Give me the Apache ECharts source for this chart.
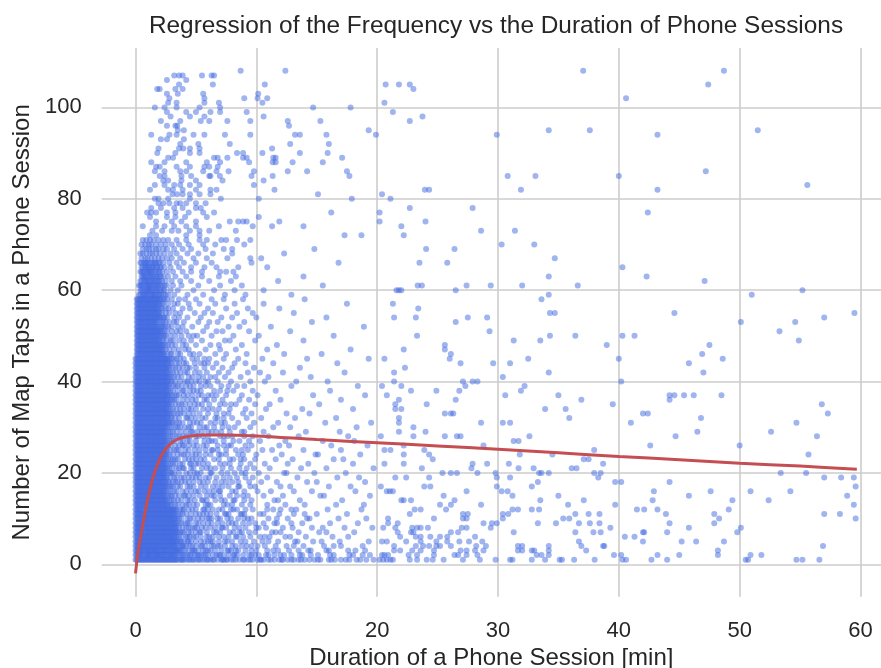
<!DOCTYPE html>
<html><head><meta charset="utf-8">
<script src="https://cdn.jsdelivr.net/npm/echarts@6/dist/echarts.min.js"></script>
<style>html,body{margin:0;padding:0;background:#fff}#c{width:881px;height:668px}</style>
</head><body><div id="c"></div>
<script>
// Sessions with many taps (x < 20 min, taps >= 72): [duration, taps]
const tapsHigh = [
[8.7,108],[12.4,108],[3.2,107],[3.6,107],[3.9,107],[5.5,107],[6.3,107],[6.5,107],[2.6,106],[4.2,106],[3.6,105],[6.4,105],[10.7,105],
[1.8,104],[2.0,104],[3.3,104],[3.9,104],[2.6,103],[3.5,103],[5.6,103],[10.15,103],[2.8,102],[5.7,102],[9.0,102],[10.1,102],[10.9,102],
[2.7,101],[3.4,101],[5.7,101],[6.9,101],[10.5,101],[1.6,100],[2.4,100],[3.4,100],[5.3,100],[7.0,100],[14.7,100],[17.8,100],
[2.6,99],[4.2,99],[5.0,99],[6.2,99],[7.0,99],[9.2,99],[2.9,98],[4.5,98],[5.7,98],[10.6,98],
[2.1,97],[3.7,97],[5.4,97],[6.1,97],[7.6,97],[9.5,97],[12.6,97],[15.3,97],[2.6,96],[3.3,96],[3.45,96],[12.7,96],[3.5,95],[4.0,95],[19.3,95],
[1.3,94],[2.8,94],[3.4,94],[4.8,94],[5.7,94],[7.4,94],[9.5,94],[13.2,94],[13.6,94],[15.8,94],[19.9,94],[2.1,93],[2.6,93],[4.0,93],
[3.7,92],[5.2,92],[7.8,92],[12.8,92],[16.0,92],[1.9,91],[3.6,91],[3.95,91],[4.5,91],[5.3,91],[11.3,91],
[1.8,90],[3.3,90],[4.5,90],[5.3,90],[8.4,90],[8.9,90],[10.5,90],[13.6,90],[15.9,90],
[2.7,89],[3.1,89],[6.5,89],[6.8,89],[7.6,89],[8.9,89],[9.2,89],[11.4,89],[11.6,89],[17.1,89],
[1.3,88],[2.4,88],[4.2,88],[5.9,88],[7.0,88],[9.4,88],[11.35,88],[11.6,88],[13.0,88],[15.5,88],
[1.7,87],[2.0,87],[3.4,87],[4.5,87],[5.7,87],[6.1,87],[6.8,87],
[1.6,86],[2.4,86],[3.7,86],[4.2,86],[5.6,86],[6.7,86],[7.7,86],[9.8,86],[12.6,86],[14.2,86],[17.5,86],
[2.0,85],[2.4,85],[3.8,85],[4.6,85],[6.1,85],[6.2,85],[6.98,85],[9.6,85],[11.35,85],[17.7,85],
[2.3,84],[2.7,84],[3.8,84],[5.0,84],[7.2,84],[10.6,84],[1.6,83],[2.4,83],[3.2,83],[3.7,83],[4.5,83],[5.3,83],[9.8,83],
[1.2,82],[2.7,82],[3.1,82],[3.9,82],[5.0,82],[6.2,82],[6.7,82],[11.5,82],[3.06,81],[3.45,81],[3.9,81],[4.5,81],[5.3,81],[6.2,81],[15.1,81],
[1.6,80],[1.9,80],[2.7,80],[4.5,80],[7.06,80],[10.2,80],[17.9,80],[3.4,79],[1.9,79],[2.3,79],[2.8,79],[3.7,79],[4.2,79],[5.0,79],[5.8,79],
[1.3,78],[2.1,78],[3.2,78],[3.9,78],[5.0,78],[5.4,78],[0.96,77],[1.3,77],[1.7,77],[2.6,77],[3.3,77],[4.4,77],[5.6,77],[6.5,77],[16.2,77],
[1.2,76],[2.6,76],[3.3,76],[4.1,76],[5.9,76],[10.2,76],[1.7,75],[3.0,75],[3.8,75],[5.0,75],[7.8,75],[8.5,75],[8.9,75],[9.2,75],[11.9,75],
[0.6,74],[1.7,74],[2.4,74],[3.2,74],[4.2,74],[5.0,74],[6.9,74],[9.7,74],[11.3,74],[13.9,74],
[1.4,73],[2.2,73],[3.0,73],[3.55,73],[4.5,73],[5.3,73],[6.1,73],[8.3,73],[1.2,72],[1.7,72],[4.2,72],[5.3,72],[17.3,72],[18.7,72]
];
// Long sessions (x >= 20 min): [duration, taps]
const tapsFar = [
[20.7,105],[21.8,105],[22.7,105],[23.0,104],[20.6,101],[21.3,99],[22.7,97],[23.75,98],[29.9,94],[34.2,95],[37.6,95],[37.05,108],[40.6,102],[43.2,94],[47.4,105],[48.7,108],[51.5,95],
[30.8,85],[33.1,85],[31.9,82],[40.0,85],[43.2,82],[47.2,86],[55.6,83],[20.4,81],[21.1,80],[23.95,82],[24.3,82],[20.2,77],[20.2,75],[22.7,78],[27.9,78],[24.0,75],[22.0,74],[22.2,72],[28.6,73],[42.4,77],
[30.3,70],[33.0,70],[31.4,73],[24.05,69],[26.4,69],[23.5,66],[25.8,66],[34.7,67],[40.3,65],[34.2,63],[42.3,63],[47.1,62],[23.35,61],[23.7,61],[27.4,61],[29.4,61],[32.0,61],[36.6,61],
[21.6,60],[21.8,60],[22.0,60],[26.5,60],[55.2,60],[21.3,57],[23.4,56],[33.6,58],[34.2,59],[51.0,59],[21.4,54],[23.2,54],[27.5,54],[29.1,54],[34.3,55],[34.7,55],[44.6,55],[57.0,54],[59.5,55],
[50.1,53],[54.6,53],[26.5,53],[29.3,51],[53.3,51],[23.3,50],[34.3,50],[36.4,50],[40.3,50],[41.3,50],
[31.3,49],[33.5,49],[54.9,49],[47.5,48],[25.6,48],[25.6,47],[39.0,48],[22.2,47],[26.1,46],[46.9,46],[20.6,45],[26.0,45],[32.5,45],[40.0,45],[48.6,45],[26.9,44],[29.6,44],[31.0,44],[45.8,44],
[22.3,43],[21.4,42],[34.2,42],[47.0,42],[30.4,41],[21.4,40],[27.1,40],[27.9,40],[28.3,40],[40.2,40],[20.4,39],[22.0,39],[27.3,39],[32.2,39],[22.8,38],[24.9,38],[26.8,38],[31.9,38],
[20.8,37],[30.6,37],[35.0,37],[44.2,37],[44.6,37],[45.4,37],[46.2,37],[48.5,37],[21.8,36],[26.5,36],[36.9,36],[44.2,36],[21.5,35],[24.1,35],[39.5,35],[56.8,35],
[21.5,34],[22.0,34],[33.9,34],[35.6,34],[25.6,33],[26.1,33],[26.3,33],[42.0,33],[42.4,33],[57.3,33],[21.8,32],[35.9,32],[46.8,32],[21.8,31],[28.6,31],[30.4,31],[31.0,31],[41.0,31],[54.7,31],
[23.0,30],[21.8,29],[24.0,29],[46.5,29],[52.6,29],[20.3,28],[23.0,28],[25.6,28],[26.6,28],[26.9,28],[32.6,28],[44.7,28],[56.4,28],[31.3,27],[31.7,27],[22.2,26],[28.8,26],[42.6,26],[50.0,26],
[20.6,25],[21.1,25],[23.9,25],[37.96,25],[22.2,24],[24.3,24],[31.8,24],[34.5,24],[55.7,24],[24.6,23],[37.1,23],[37.5,23],[20.6,22],[22.2,22],[27.9,22],[29.1,22],[30.9,22],[38.7,22],
[23.7,21],[27.8,21],[31.7,21],[32.95,21],[36.1,21],[36.5,21],[25.4,20],[26.1,20],[26.6,20],[28.3,20],[29.8,20],[33.4,20],[33.6,20],[34.2,20],[37.96,20],[38.5,20],[53.4,20],[55.5,20],
[21.5,19],[22.4,19],[24.3,19],[29.9,19],[31.0,19],[38.3,19],[57.0,19],[58.4,19],[59.45,19],[33.3,18],[39.7,18],[40.2,18],[44.2,18],[20.3,17],[23.9,17],[24.4,17],[29.9,17],[32.8,17],[59.6,17],
[20.8,16],[21.05,16],[21.3,16],[27.4,16],[30.3,16],[30.8,16],[42.9,16],[47.6,16],[50.9,16],[54.2,16],[25.5,15],[31.2,15],[35.0,15],[45.8,15],[58.9,15],
[22.0,14],[22.2,14],[22.8,14],[26.4,14],[33.5,14],[37.1,14],[42.8,14],[49.4,14],[52.4,14],[59.45,13],[25.2,13],[26.1,13],[28.6,13],[35.8,13],[39.7,13],
[23.1,12],[23.6,12],[25.7,12],[31.2,12],[31.65,12],[32.8,12],[33.4,12],[41.5,12],[42.1,12],[43.2,12],[49.1,12],[22.7,11],[27.1,11],[27.5,11],[30.4,11],[30.85,11],[36.4,11],[37.5,11],[38.4,11],[43.9,11],[47.9,11],[57.0,11],[58.3,11],
[20.9,10],[24.7,10],[27.1,10],[27.4,10],[30.4,10],[35.4,10],[35.9,10],[48.3,10],[59.6,10],[20.9,9],[21.7,9],[28.8,9],[29.5,9],[29.9,9],[33.3,9],[34.8,9],[36.7,9],[37.6,9],[38.4,9],[44.2,9],[47.9,9],
[20.5,8],[21.5,8],[22.9,8],[23.3,8],[23.6,8],[24.2,8],[27.0,8],[27.4,8],[29.4,8],[39.3,8],[45.8,8],[50.1,8],[21.7,7],[22.8,7],[23.0,7],[26.1,7],[26.7,7],[31.3,7],[36.4,7],[37.9,7],[38.5,7],[42.0,7],[42.1,7],[44.0,7],[49.8,7],
[21.9,6],[23.2,6],[23.6,6],[24.4,6],[25.2,6],[25.8,6],[28.1,6],[40.5,6],[41.3,6],[20.4,5],[20.8,5],[22.4,5],[23.6,5],[24.9,5],[25.8,5],[26.8,5],[27.6,5],[28.7,5],[36.7,5],[42.0,5],[45.2,5],[46.4,5],[48.7,5],
[36.9,4],[21.4,4],[23.2,4],[23.8,4],[24.3,4],[24.9,4],[25.2,4],[26.1,4],[28.2,4],[29.0,4],[31.65,4],[32.0,4],[34.2,4],[38.7,4],[38.8,4],[56.9,4],
[21.4,3],[21.9,3],[22.9,3],[23.6,3],[24.7,3],[26.9,3],[27.4,3],[28.1,3],[28.8,3],[31.65,3],[32.0,3],[32.8,3],[33.0,3],[34.2,3],[37.3,3],[48.2,3],
[20.4,2],[20.6,2],[20.9,2],[22.6,2],[23.3,2],[24.7,2],[26.4,2],[26.7,2],[27.4,2],[28.3,2],[33.2,2],[33.6,2],[34.2,2],[39.6,2],[40.2,2],[43.2,2],[45.0,2],[48.2,2],[50.9,2],[51.8,2],
[20.2,1],[20.5,1],[20.8,1],[21.1,1],[21.3,1],[22.7,1],[23.3,1],[24.1,1],[24.6,1],[25.5,1],[27.1,1],[28.5,1],[29.8,1],[31.0,1],[31.2,1],[32.8,1],[33.9,1],[35.1,1],[35.3,1],[36.3,1],[38.0,1],[40.3,1],[40.6,1],[42.7,1],[44.0,1],[50.5,1],[50.7,1],[54.7,1],[55.2,1],[56.6,1]
];
// Short sessions (x < 20 min, taps 1..71): [taps, [durations...]]
const lowRows = [
[1,[0.0,0.2,0.4,0.5,0.7,0.9,1.0,1.2,1.4,1.6,1.7,1.9,2.1,2.3,2.5,2.7,2.9,3.1,3.3,3.5,3.8,4.0,4.5,4.7,5.2,5.3,5.9,6.4,6.5,7.2,7.5,7.6,8.3,8.9,9.0,9.7,10.3,10.4,11.2,11.9,12.1,12.9,13.7,14.0,14.8,15.1,16.2,16.5,17.4,18.3,18.6,19.7]],
[2,[0.1,0.3,0.4,0.6,0.8,1.0,1.1,1.3,1.5,1.7,1.8,2.0,2.2,2.4,2.6,2.8,3.0,3.2,3.4,3.9,4.1,4.6,5.1,5.2,5.8,6.7,6.9,7.3,8.1,8.2,9.4,9.9,10.8,11.0,12.3,13.6,13.8,15.1,16.4,17.7,18.0,19.4]],
[3,[0.0,0.2,0.4,0.5,0.7,0.9,1.0,1.2,1.4,1.6,1.7,1.9,2.1,2.3,2.5,2.7,2.9,3.1,3.3,3.5,3.7,4.4,4.8,4.9,5.6,6.0,6.6,7.7,7.9,8.5,9.6,10.9,11.4,12.7,14.3,14.5,16.0,18.2,19.0]],
[4,[0.1,0.3,0.4,0.6,0.8,1.0,1.1,1.3,1.5,1.7,1.8,2.0,2.2,2.4,2.6,2.8,3.0,3.2,3.4,3.9,4.2,4.7,5.4,5.5,6.3,6.8,7.0,8.0,8.8,9.2,10.1,11.6,12.5,13.9,15.6,17.0,18.8]],
[5,[0.0,0.2,0.4,0.5,0.7,0.9,1.0,1.2,1.4,1.6,1.7,1.9,2.1,2.3,2.5,2.7,2.9,3.1,3.3,3.5,3.8,4.3,4.4,5.0,5.7,6.2,6.4,7.4,7.6,8.7,9.8,10.5,11.8,13.2,13.4,15.4,16.9,19.3]],
[6,[0.1,0.3,0.4,0.6,0.8,1.0,1.1,1.3,1.5,1.7,1.8,2.0,2.2,2.4,2.6,2.8,3.0,3.2,3.4,3.6,4.2,4.5,5.0,5.9,6.1,6.9,7.3,8.3,8.4,9.5,10.7,11.1,12.8,14.1,16.3,17.6]],
[7,[0.0,0.2,0.4,0.5,0.7,0.9,1.0,1.2,1.4,1.6,1.7,1.9,2.1,2.3,2.5,2.7,2.9,3.1,3.3,3.5,3.7,4.0,4.6,5.3,5.4,6.5,6.7,7.8,8.6,8.8,9.9,11.3,12.0,13.5,15.2,15.8,18.1]],
[8,[0.1,0.3,0.4,0.6,0.8,1.0,1.1,1.3,1.5,1.7,1.8,2.0,2.2,2.4,2.6,2.8,3.0,3.2,3.4,3.9,4.4,4.9,5.1,5.8,6.6,7.1,7.2,8.2,9.1,10.0,10.2,12.2,13.0,14.6,17.3,19.6]],
[9,[0.0,0.2,0.4,0.5,0.7,0.9,1.0,1.2,1.4,1.6,1.7,1.9,2.1,2.3,2.5,2.7,2.9,3.1,3.3,3.6,4.1,4.3,5.2,5.6,6.0,6.8,7.7,8.0,8.9,9.4,10.6,11.5,11.7,13.8,16.1,18.4]],
[10,[0.1,0.3,0.4,0.6,0.8,1.0,1.1,1.3,1.5,1.7,1.8,2.0,2.2,2.4,2.6,2.8,3.0,3.2,3.4,3.8,4.5,4.8,5.5,6.1,6.3,7.0,7.9,8.5,9.3,9.6,11.0,12.6,14.2,14.4,16.8,19.1]],
[11,[0.0,0.2,0.4,0.5,0.7,0.9,1.0,1.2,1.4,1.6,1.7,1.9,2.1,2.3,2.5,2.7,2.9,3.1,3.3,3.7,4.2,5.0,5.3,5.9,6.7,7.4,7.5,8.7,9.0,10.3,11.9,13.1,15.0,17.5]],
[12,[0.1,0.3,0.4,0.6,0.8,1.0,1.1,1.3,1.5,1.7,1.8,2.0,2.2,2.4,2.6,2.8,3.0,3.2,3.4,3.9,4.0,4.7,5.6,5.7,6.4,7.2,8.1,8.4,9.7,10.9,11.4,12.9,13.3,15.9,18.7]],
[13,[0.0,0.2,0.4,0.6,0.8,1.0,1.2,1.4,1.6,1.8,2.0,2.2,2.4,2.6,2.9,3.3,3.5,4.2,4.4,5.1,5.8,6.0,7.3,7.6,8.8,9.5,10.9,12.4,14.0,16.6,18.9]],
[14,[0.1,0.3,0.5,0.7,0.9,1.1,1.3,1.5,1.7,1.9,2.1,2.3,2.5,2.8,3.2,3.8,4.3,4.9,5.5,5.6,6.6,7.4,8.1,8.2,9.6,11.5,11.8,13.6,17.1]],
[15,[0.0,0.2,0.4,0.6,0.8,1.0,1.2,1.4,1.6,1.8,2.0,2.2,2.4,2.7,3.0,3.6,4.0,4.1,4.8,5.9,6.3,6.5,7.8,8.9,9.3,10.6,12.2,15.3,15.6,19.4]],
[16,[0.1,0.3,0.5,0.7,0.9,1.1,1.3,1.5,1.7,1.9,2.1,2.3,2.5,2.9,3.4,3.9,4.6,5.0,5.2,6.1,6.9,7.0,8.3,9.0,10.1,11.2,13.1,14.6,18.2]],
[17,[0.0,0.2,0.4,0.6,0.8,1.0,1.2,1.4,1.6,1.8,2.0,2.2,2.4,2.6,2.8,3.1,3.7,4.3,4.5,5.4,6.4,6.8,7.7,8.5,8.6,9.9,12.0,12.8,16.0,17.8]],
[18,[0.1,0.3,0.5,0.7,0.9,1.1,1.3,1.5,1.7,1.9,2.1,2.3,2.5,2.7,3.3,3.5,4.1,4.8,5.6,6.0,7.1,7.5,8.0,9.4,10.4,11.7,14.2,15.0,19.0]],
[19,[0.0,0.2,0.4,0.6,0.8,1.0,1.2,1.4,1.6,1.8,2.0,2.2,2.4,2.9,3.2,3.8,4.4,4.7,5.3,5.8,6.7,7.3,8.4,9.1,9.7,10.9,13.4,16.7,18.5]],
[20,[0.1,0.3,0.5,0.7,0.9,1.1,1.3,1.5,1.7,1.9,2.1,2.3,2.5,2.7,3.0,3.6,4.2,4.9,5.1,6.2,6.3,7.6,8.2,8.8,10.2,12.3,12.5,14.8,17.4]],
[21,[0.0,0.2,0.4,0.6,0.8,1.0,1.2,1.4,1.6,1.8,2.0,2.2,2.4,2.8,3.4,3.9,4.0,4.6,5.5,5.9,6.6,7.2,7.9,9.2,9.8,11.1,13.7,15.8,19.7]],
[22,[0.1,0.3,0.5,0.7,0.9,1.1,1.3,1.5,1.7,1.9,2.1,2.3,2.5,2.9,3.3,3.7,4.5,4.6,5.2,6.0,7.0,7.4,8.7,9.5,10.7,12.6,14.3,18.0]],
[23,[0.0,0.2,0.4,0.6,0.8,1.0,1.2,1.4,1.6,1.8,2.0,2.2,2.4,2.7,3.1,3.5,4.1,4.7,5.4,5.7,6.5,7.8,8.1,9.0,9.9,11.6,13.0,16.4,17.2]],
[24,[0.1,0.3,0.5,0.7,0.9,1.1,1.3,1.5,1.7,1.9,2.1,2.3,2.5,2.8,3.5,3.8,4.3,5.0,5.3,6.2,6.9,7.1,8.5,8.9,10.0,12.1,14.9,15.1,18.6]],
[25,[0.0,0.2,0.4,0.6,0.8,1.0,1.2,1.4,1.6,1.8,2.0,2.2,2.4,2.9,3.2,3.6,4.4,4.9,5.8,6.3,6.4,7.5,8.3,9.3,10.5,11.3,13.9,17.0]],
[26,[0.1,0.3,0.5,0.7,0.9,1.1,1.3,1.5,1.7,1.9,2.1,2.3,2.5,2.7,3.3,3.9,4.0,4.8,5.1,5.6,6.8,7.7,7.9,9.1,9.6,11.9,12.7,16.2,19.2]],
[27,[0.0,0.2,0.4,0.6,0.8,1.0,1.2,1.4,1.6,1.8,2.0,2.2,2.4,2.8,3.0,3.7,4.3,4.5,5.7,6.1,6.6,7.3,8.6,9.4,10.3,12.4,15.5,18.1]],
[28,[0.1,0.3,0.5,0.7,0.9,1.1,1.3,1.5,1.7,1.9,2.1,2.3,2.5,2.9,3.4,3.6,4.2,5.0,5.2,6.0,7.0,7.6,8.0,9.7,11.0,13.5,17.6]],
[29,[0.0,0.2,0.4,0.6,0.8,1.0,1.2,1.4,1.6,1.8,2.0,2.2,2.4,2.7,3.1,3.8,4.6,4.7,5.5,6.3,6.7,7.8,8.8,9.0,10.6,14.1,16.9]],
[30,[0.1,0.3,0.5,0.7,0.9,1.1,1.3,1.5,1.7,1.9,2.1,2.3,2.5,2.8,3.3,3.5,4.1,4.4,5.3,5.9,6.5,7.2,8.2,9.5,11.4,12.8,18.3]],
[31,[0.0,0.2,0.4,0.6,0.8,1.0,1.2,1.4,1.6,1.8,2.0,2.2,2.4,2.6,2.8,3.1,3.4,3.9,4.5,5.1,5.4,6.2,7.1,7.4,8.5,9.8,11.8,15.7,19.5]],
[32,[0.1,0.3,0.5,0.7,0.9,1.1,1.3,1.5,1.7,1.9,2.1,2.3,2.5,2.7,3.0,3.6,4.2,4.3,5.0,5.8,6.6,6.8,8.0,9.2,10.4,13.2,16.6]],
[33,[0.0,0.2,0.4,0.6,0.8,1.0,1.2,1.4,1.6,1.8,2.0,2.2,2.4,2.6,2.8,3.2,3.5,4.0,4.8,5.3,6.0,7.3,7.7,8.9,9.6,12.5,14.4]],
[34,[0.1,0.3,0.5,0.7,0.9,1.1,1.3,1.5,1.7,1.9,2.1,2.3,2.5,2.7,3.1,3.7,4.4,4.6,5.6,6.4,6.9,7.8,9.1,10.8,13.8,18.0]],
[35,[0.0,0.2,0.4,0.6,0.8,1.0,1.2,1.4,1.6,1.8,2.0,2.2,2.4,2.6,2.8,3.3,3.8,4.1,4.9,5.2,6.1,7.0,7.9,8.3,9.9,11.1,15.2]],
[36,[0.1,0.3,0.5,0.7,0.9,1.1,1.3,1.5,1.7,1.9,2.1,2.3,2.5,2.7,3.0,3.4,4.3,5.0,5.7,5.9,7.2,8.6,9.4,12.0,17.0]],
[37,[0.0,0.2,0.4,0.6,0.8,1.0,1.2,1.4,1.6,1.8,2.0,2.2,2.4,2.6,2.8,3.2,3.6,4.0,4.7,5.5,6.3,6.7,7.5,8.8,10.1,14.7,19.0]],
[38,[0.1,0.3,0.5,0.7,0.9,1.1,1.3,1.5,1.7,1.9,2.1,2.3,2.5,2.7,3.1,3.9,4.5,5.1,5.4,6.5,7.6,8.1,9.7,11.6,16.1]],
[39,[0.0,0.2,0.4,0.6,0.8,1.0,1.2,1.4,1.6,1.8,2.0,2.2,2.4,2.6,2.8,3.3,3.5,4.2,4.8,5.8,6.2,7.1,8.4,9.0,12.9,18.4]],
[40,[0.1,0.3,0.5,0.7,0.9,1.1,1.3,1.5,1.7,1.9,2.1,2.3,2.5,2.7,3.0,3.7,4.1,4.6,5.3,6.0,6.8,7.9,9.5,10.7,13.3,15.9]],
[41,[0.0,0.2,0.4,0.6,0.8,1.0,1.2,1.4,1.6,1.8,2.0,2.2,2.4,2.6,2.8,3.2,3.8,4.4,5.2,5.6,6.6,7.4,8.7,11.0,14.5]],
[42,[0.1,0.3,0.5,0.7,0.9,1.1,1.3,1.5,1.7,1.9,2.1,2.3,2.5,2.7,3.1,3.4,4.3,4.9,5.9,6.9,7.7,9.3,10.3,12.2,17.3]],
[43,[0.0,0.2,0.4,0.6,0.8,1.0,1.2,1.4,1.6,1.8,2.0,2.2,2.4,2.6,2.8,3.3,3.9,4.5,5.0,6.4,7.2,8.0,9.8,13.6]],
[44,[0.1,0.3,0.5,0.7,0.9,1.1,1.3,1.5,1.7,1.9,2.1,2.3,2.5,2.7,3.0,3.6,4.2,5.4,5.7,6.7,8.2,9.1,11.4,16.7]],
[45,[0.0,0.2,0.4,0.6,0.8,1.0,1.2,1.4,1.6,1.8,2.0,2.2,2.4,2.6,2.8,3.2,3.7,4.7,5.1,6.1,7.3,8.5,10.5,14.2,19.3]],
[46,[0.1,0.3,0.5,0.7,0.9,1.1,1.3,1.5,1.7,1.9,2.1,2.3,2.6,3.0,3.7,4.5,5.3,6.6,7.5,9.2,12.3,15.4]],
[47,[0.2,0.4,0.6,0.8,1.0,1.2,1.4,1.6,1.8,2.0,2.2,2.5,3.2,4.1,4.4,5.8,7.0,8.3,10.9,17.8]],
[48,[0.1,0.3,0.5,0.7,0.9,1.1,1.3,1.5,1.7,1.9,2.1,2.3,2.7,3.3,3.9,5.0,6.2,6.9,8.8,11.7]],
[49,[0.2,0.4,0.6,0.8,1.0,1.2,1.4,1.6,1.8,2.0,2.2,2.6,3.1,3.6,4.6,5.5,7.4,7.8,9.9,13.9]],
[50,[0.1,0.3,0.5,0.7,0.9,1.1,1.3,1.5,1.7,1.9,2.1,2.3,2.5,2.9,3.8,4.8,5.1,6.3,8.1,10.2,16.4]],
[51,[0.2,0.4,0.6,0.8,1.0,1.2,1.4,1.6,1.8,2.0,2.2,2.6,3.4,4.2,5.6,6.7,7.2,9.4,12.8]],
[52,[0.1,0.3,0.5,0.7,0.9,1.1,1.3,1.5,1.7,1.9,2.1,2.3,2.7,3.0,3.5,4.7,5.9,7.7,8.6,11.2,18.9]],
[53,[0.2,0.4,0.6,0.8,1.0,1.2,1.4,1.6,1.8,2.0,2.2,2.5,3.2,4.0,5.2,6.1,6.8,9.0,14.6]],
[54,[0.1,0.3,0.5,0.7,0.9,1.1,1.3,1.5,1.7,1.9,2.1,2.3,2.6,3.6,4.3,5.4,7.1,8.0,10.0,15.8]],
[55,[0.2,0.4,0.6,0.8,1.0,1.2,1.4,1.6,1.8,2.0,2.2,2.8,3.3,4.9,5.7,6.4,8.4,9.7,13.1]],
[56,[0.1,0.3,0.5,0.7,0.9,1.1,1.3,1.5,1.7,1.9,2.1,2.5,3.1,3.9,4.5,6.0,7.5,9.3,11.9]],
[57,[0.2,0.4,0.6,0.8,1.0,1.2,1.4,1.6,1.8,2.0,2.2,2.7,3.5,4.4,5.3,6.6,8.2,10.6,17.5]],
[58,[0.1,0.3,0.5,0.7,0.9,1.1,1.3,1.5,1.7,1.9,2.1,2.3,2.6,3.0,4.1,5.0,6.3,7.3,8.9,14.0]],
[59,[0.3,0.6,0.8,1.0,1.3,1.5,1.7,2.0,2.3,2.7,3.2,4.3,5.6,7.4,9.1,12.9]],
[60,[0.4,0.6,0.9,1.1,1.3,1.6,1.8,2.1,2.4,2.9,3.5,4.8,6.5,8.2,10.6]],
[61,[0.3,0.5,0.8,1.0,1.2,1.4,1.7,1.9,2.2,2.6,3.1,3.8,5.2,7.0,8.8,15.5]],
[62,[0.4,0.7,0.9,1.1,1.4,1.6,1.9,2.2,2.5,3.0,3.7,4.6,6.1,7.9,11.8]],
[63,[0.5,0.7,0.9,1.2,1.4,1.7,2.0,2.3,2.7,3.3,4.2,5.5,6.9,8.3,13.9]],
[64,[0.4,0.6,0.9,1.1,1.3,1.6,1.9,2.2,2.6,3.1,3.9,4.6,5.5,7.0,7.5,8.1]],
[65,[0.5,0.8,1.0,1.3,1.5,1.8,2.1,2.4,2.9,3.6,4.6,5.7,6.7,8.5,10.9]],
[66,[0.4,0.7,0.9,1.2,1.5,1.7,2.0,2.3,2.8,3.4,4.0,5.0,6.3,9.6,16.8]],
[67,[0.5,0.8,1.0,1.3,1.6,1.9,2.2,2.6,3.0,3.7,4.8,5.9,7.6,9.5,10.4]],
[68,[0.4,0.6,0.9,1.2,1.4,1.7,2.0,2.4,2.9,3.4,4.3,5.2,6.4,8.0,12.3]],
[69,[0.6,0.9,1.1,1.4,1.7,1.9,2.3,2.6,3.2,3.9,4.6,5.8,7.3,8.0,14.8]],
[70,[0.5,0.8,1.1,1.3,1.7,2.1,2.5,3.0,3.6,4.4,5.6,6.6,9.0]],
[71,[0.6,0.9,1.2,1.5,1.9,2.3,2.7,3.4,4.2,5.3,5.9,7.1,7.5,8.4,9.5]]
];
// Further sessions stacked in the saturated short-session core: [taps, [durations...]]
const coreRows = [
[1,[0.1,0.3,0.6,0.8,1.1,1.3,1.5,1.8,2.0,2.2,2.4,2.6,2.8,3.0,3.2,3.4,3.7,3.9,4.2,4.4,4.8,5.0,5.5,5.7,6.0,6.2,6.8,7.1,7.3,7.9,8.1,8.6,9.3,9.5,10.1,10.6,11.0,11.5,12.2,12.6,13.1,13.5,14.4,15.3,16.0,17.0,17.7,19.1]],
[2,[0.0,0.2,0.4,0.6,0.9,1.1,1.3,1.6,1.8,2.0,2.2,2.4,2.7,2.9,3.1,3.3,3.6,3.8,4.3,4.5,4.9,5.4,5.6,6.0,6.4,7.0,7.7,8.4,8.9,9.6,10.2,11.5,12.0,12.9,14.5,16.1,18.8]],
[3,[0.1,0.3,0.5,0.7,1.0,1.2,1.4,1.6,1.8,2.1,2.3,2.5,2.7,3.0,3.2,3.4,3.6,3.9,4.1,4.7,5.2,5.8,6.2,7.1,7.6,8.3,9.1,10.0,11.8,13.5,15.8,17.6]],
[4,[0.0,0.2,0.5,0.7,0.9,1.2,1.4,1.6,1.9,2.1,2.3,2.5,2.7,2.9,3.1,3.3,3.6,3.8,4.0,4.5,5.0,5.8,6.5,7.4,8.3,9.6,10.7,13.1,16.4]],
[5,[0.1,0.3,0.6,0.8,1.1,1.3,1.5,1.8,2.0,2.2,2.4,2.6,2.8,3.0,3.2,3.4,3.7,4.0,4.6,5.4,6.0,6.9,8.0,9.1,11.0,14.7]],
[6,[0.0,0.2,0.5,0.7,0.9,1.2,1.4,1.6,1.9,2.1,2.3,2.5,2.7,2.9,3.1,3.3,3.8,4.3,4.8,5.4,6.4,7.7,8.9,10.3,12.4]],
[7,[0.1,0.3,0.5,0.8,1.1,1.3,1.5,1.8,2.0,2.2,2.4,2.6,2.8,3.0,3.2,3.4,3.9,4.4,5.0,5.9,7.0,8.1,9.4,11.6]],
[8,[0.0,0.2,0.4,0.7,0.9,1.2,1.4,1.6,1.9,2.1,2.3,2.5,2.7,2.9,3.1,3.3,3.6,4.2,4.7,5.5,6.2,7.5,8.6,10.8,15.5]],
[9,[0.1,0.3,0.6,0.8,1.1,1.3,1.5,1.8,2.0,2.2,2.4,2.6,2.8,3.0,3.2,3.4,3.8,4.5,5.0,6.3,7.2,8.3,9.9,12.9]],
[10,[0.0,0.2,0.5,0.7,0.9,1.2,1.4,1.6,1.9,2.1,2.3,2.5,2.7,2.9,3.1,3.3,3.6,4.3,5.2,5.9,6.8,7.6,9.0,11.7]],
[11,[0.1,0.3,0.5,0.8,1.1,1.3,1.5,1.8,2.0,2.2,2.4,2.6,2.8,3.0,3.2,3.5,3.9,4.6,5.6,6.2,7.7,8.8,10.6,14.0]],
[12,[0.0,0.2,0.4,0.7,0.9,1.2,1.4,1.6,1.9,2.1,2.3,2.5,2.7,2.9,3.1,3.3,3.7,4.4,5.0,6.0,6.9,7.9,9.1,12.0]],
[13,[0.1,0.3,0.5,0.7,0.9,1.1,1.3,1.5,1.7,1.9,2.1,2.3,2.5,2.7,3.0,3.9,4.8,6.2,8.0]],
[14,[0.0,0.2,0.4,0.6,0.8,1.0,1.2,1.4,1.6,1.8,2.0,2.2,2.4,2.6,3.0,3.5,4.5,5.9,7.1,9.0]],
[15,[0.1,0.3,0.5,0.7,0.9,1.1,1.3,1.5,1.7,1.9,2.1,2.3,2.5,2.9,3.3,4.4,5.3,7.0,8.4]],
[16,[0.0,0.2,0.4,0.6,0.8,1.0,1.2,1.4,1.6,1.8,2.0,2.2,2.4,2.7,3.2,4.2,5.7,6.5,8.0]],
[17,[0.1,0.3,0.5,0.7,0.9,1.1,1.3,1.5,1.7,1.9,2.1,2.3,2.5,3.0,3.5,4.8,5.8,7.2,9.5]],
[18,[0.0,0.2,0.4,0.6,0.8,1.0,1.2,1.4,1.6,1.8,2.0,2.2,2.4,2.8,3.1,3.8,4.4,5.3,6.6,8.5]],
[19,[0.1,0.3,0.5,0.7,0.9,1.1,1.3,1.5,1.7,1.9,2.1,2.3,2.5,2.6,3.4,4.0,5.0,6.1,7.8]],
[20,[0.0,0.2,0.4,0.6,0.8,1.0,1.2,1.4,1.6,1.8,2.0,2.2,2.4,2.9,3.2,4.5,5.4,7.1,9.1]],
[21,[0.1,0.3,0.5,0.7,0.9,1.1,1.3,1.5,1.7,1.9,2.1,2.3,2.5,2.6,3.0,3.6,4.8,6.2,8.6]],
[22,[0.0,0.2,0.4,0.6,0.8,1.0,1.2,1.4,1.6,1.8,2.0,2.2,2.4,2.7,3.1,3.9,5.0,5.6,7.8]],
[23,[0.1,0.3,0.5,0.7,0.9,1.1,1.3,1.5,1.7,1.9,2.1,2.3,2.5,2.9,3.3,4.4,5.0,6.9,8.7]],
[24,[0.0,0.2,0.4,0.6,0.8,1.0,1.2,1.4,1.6,1.8,2.0,2.2,2.4,2.6,3.1,4.0,4.7,5.8,7.5]],
[25,[0.1,0.3,0.5,0.7,0.9,1.1,1.3,1.5,1.7,1.9,2.1,2.3,2.5,2.6,3.4,4.1,5.3,6.8,8.8]],
[26,[0.0,0.2,0.4,0.6,0.8,1.0,1.2,1.4,1.6,1.8,2.0,2.2,2.4,2.9,3.6,4.4,5.9,7.3]],
[27,[0.1,0.3,0.5,0.7,0.9,1.1,1.3,1.5,1.7,1.9,2.1,2.3,2.5,2.6,3.2,3.9,5.0,6.3,8.1]],
[28,[0.0,0.2,0.4,0.6,0.8,1.0,1.2,1.4,1.6,1.8,2.0,2.2,2.4,2.7,3.1,3.9,4.5,5.6,7.3,9.0]],
[29,[0.1,0.3,0.5,0.7,0.9,1.1,1.3,1.5,1.7,1.9,2.1,2.3,2.5,2.9,3.4,4.2,5.1,6.0,7.1]],
[30,[0.0,0.2,0.4,0.6,0.8,1.0,1.2,1.4,1.6,1.8,2.0,2.2,2.4,2.6,3.0,3.7,4.6,5.7,7.7]],
[31,[0.1,0.3,0.5,0.7,0.9,1.1,1.3,1.5,1.7,1.9,2.1,2.3,2.5,2.7,3.0,3.6,4.8,6.6]],
[32,[0.0,0.2,0.4,0.6,0.8,1.0,1.2,1.4,1.6,1.8,2.0,2.2,2.4,2.6,2.9,3.3,4.6,5.5,7.3]],
[33,[0.1,0.3,0.5,0.7,0.9,1.1,1.3,1.5,1.7,1.9,2.1,2.3,2.5,2.7,3.0,3.7,4.4,6.7]],
[34,[0.0,0.2,0.4,0.6,0.8,1.0,1.2,1.4,1.6,1.8,2.0,2.2,2.4,2.6,2.9,3.4,4.0,5.0,6.0]],
[35,[0.1,0.3,0.5,0.7,0.9,1.1,1.3,1.5,1.7,1.9,2.1,2.3,2.5,2.7,3.0,3.6,4.5,5.5,7.4]],
[36,[0.0,0.2,0.4,0.6,0.8,1.0,1.2,1.4,1.6,1.8,2.0,2.2,2.4,2.6,2.9,3.2,3.9,4.7,6.5]],
[37,[0.1,0.3,0.5,0.7,0.9,1.1,1.3,1.5,1.7,1.9,2.1,2.3,2.5,2.7,3.0,3.4,4.3,5.2,6.0]],
[38,[0.0,0.2,0.4,0.6,0.8,1.0,1.2,1.4,1.6,1.8,2.0,2.2,2.4,2.6,2.9,3.5,4.0,4.8,7.0]],
[39,[0.1,0.3,0.5,0.7,0.9,1.1,1.3,1.5,1.7,1.9,2.1,2.3,2.5,2.7,3.1,3.8,4.5,5.4,7.7]],
[40,[0.0,0.2,0.4,0.6,0.8,1.0,1.2,1.4,1.6,1.8,2.0,2.2,2.4,2.6,2.9,3.3,4.3,5.0,5.8]],
[41,[0.1,0.3,0.5,0.7,0.9,1.1,1.3,1.5,1.7,1.9,2.1,2.3,2.5,2.7,3.0,3.5,4.7,6.2]],
[42,[0.0,0.2,0.4,0.6,0.8,1.0,1.2,1.4,1.6,1.8,2.0,2.2,2.4,2.6,2.9,3.7,4.1,5.3]],
[43,[0.1,0.3,0.5,0.7,0.9,1.1,1.3,1.5,1.7,1.9,2.1,2.3,2.5,2.7,3.1,3.6,4.3,5.7]],
[44,[0.0,0.2,0.4,0.6,0.8,1.0,1.2,1.4,1.6,1.8,2.0,2.2,2.4,2.6,2.9,3.4,4.0,4.9,6.0]],
[45,[0.1,0.3,0.5,0.7,0.9,1.1,1.3,1.5,1.7,1.9,2.1,2.3,2.5,2.7,3.0,3.4,4.0,5.7]],
[46,[0.2,0.4,0.6,0.8,1.0,1.2,1.4,1.6,1.8,2.0,2.2,2.4,2.9,3.5,4.8]],
[47,[0.1,0.3,0.5,0.7,0.9,1.1,1.3,1.5,1.7,1.9,2.1,2.3,2.8,3.6]],
[48,[0.2,0.4,0.6,0.8,1.0,1.2,1.4,1.6,1.8,2.0,2.2,2.5,3.0,4.2]],
[49,[0.1,0.3,0.5,0.7,0.9,1.1,1.3,1.5,1.7,1.9,2.3,2.9,4.0]],
[50,[0.2,0.4,0.6,0.8,1.0,1.2,1.4,1.6,1.8,2.0,2.4,3.3,4.4]],
[51,[0.1,0.3,0.5,0.7,0.9,1.1,1.3,1.5,1.7,1.9,2.1,2.4,3.0,3.7]],
[52,[0.2,0.4,0.6,0.8,1.0,1.2,1.4,1.6,1.8,2.2,2.5,3.9]],
[53,[0.1,0.3,0.5,0.7,0.9,1.1,1.3,1.5,1.7,2.3,2.8,3.4]],
[54,[0.2,0.4,0.6,0.8,1.0,1.2,1.4,1.6,1.8,2.0,2.4,3.2]],
[55,[0.1,0.3,0.5,0.7,0.9,1.1,1.3,1.5,1.7,1.9,2.5,3.7]],
[56,[0.2,0.4,0.6,0.8,1.0,1.2,1.4,1.6,1.8,2.2,2.7]],
[57,[0.1,0.3,0.5,0.7,0.9,1.1,1.3,1.5,1.7,1.9,2.3,3.2]],
[58,[0.2,0.4,0.6,0.8,1.0,1.2,1.4,1.6,1.8,2.0,2.4,3.6]],
[59,[0.4,0.7,0.9,1.2,1.4,1.6,1.9,2.1,2.5]],
[60,[0.5,0.8,1.0,1.2,1.4,1.7,2.0,2.3]],
[61,[0.4,0.6,0.9,1.1,1.3,1.6,1.8,2.1,2.4]],
[62,[0.5,0.8,1.0,1.3,1.5,1.8,2.0]],
[63,[0.6,0.8,1.1,1.3,1.6,1.8,2.1]],
[64,[0.5,0.7,1.0,1.2,1.4,1.7,2.0]],
[65,[0.6,0.9,1.1,1.4,1.7,2.0]],
[66,[0.5,0.8,1.0,1.3,1.6,1.9]]
];
// Regression curve
const fitX = [0,0.15,0.33,0.55,0.77,1.0,1.18,1.45,1.74,2.05,2.43,2.75,3.1,3.6,4.2,4.9,5.6,7.0,10,15,20,25,30,35,40,45,50,55,59.7];
const fitY = [-2,1.5,4.6,8.0,11.1,14.2,16.3,19.0,21.3,23.3,25.0,26.0,26.8,27.5,27.9,28.2,28.3,28.3,28.1,27.3,26.6,25.9,25.2,24.4,23.6,22.9,22.1,21.5,20.8];

const points = tapsHigh.concat(tapsFar);
lowRows.concat(coreRows).forEach(r => r[1].forEach(x => points.push([x, r[0]])));
const fitLine = fitX.map((x, i) => [x, fitY[i]]);

const FONT = 'Liberation Sans, Arial, sans-serif';
const TXT = '#262626';
const chart = echarts.init(document.getElementById('c'), null, {renderer: 'canvas'});
chart.setOption({
  animation: false,
  backgroundColor: '#ffffff',
  graphic: [{
    type: 'text', x: 496, y: 26,
    style: {text: 'Regression of the Frequency vs the Duration of Phone Sessions', fill: TXT,
      font: '24.4px ' + FONT, textAlign: 'center', textVerticalAlign: 'middle'}
  }],
  grid: {left: 101.7, right: 0, top: 48, bottom: 71.3, containLabel: false, outerBoundsMode: 'none'},
  xAxis: {
    type: 'value', min: -2.8, max: 61.7,
    name: 'Duration of a Phone Session [min]', nameLocation: 'middle', nameGap: 43,
    nameTextStyle: {fontFamily: FONT, fontSize: 24, color: TXT},
    axisLine: {show: false}, axisTick: {show: false},
    axisLabel: {fontFamily: FONT, fontSize: 22, color: TXT, margin: 23, showMinLabel: false, showMaxLabel: false},
    splitLine: {show: true, showMinLine: false, showMaxLine: false, lineStyle: {color: '#cccccc', width: 1.6}}
  },
  yAxis: {
    type: 'value', min: -7.1, max: 113,
    name: 'Number of Map Taps in a Phone Session', nameLocation: 'middle', nameGap: 64,
    nameTextStyle: {fontFamily: FONT, fontSize: 24, color: TXT},
    axisLine: {show: false}, axisTick: {show: false},
    axisLabel: {fontFamily: FONT, fontSize: 22, color: TXT, margin: 20, showMinLabel: false, showMaxLabel: false},
    splitLine: {show: true, showMinLine: false, showMaxLine: false, lineStyle: {color: '#cccccc', width: 1.6}}
  },
  series: [
    {type: 'scatter', data: points, symbolSize: 6, large: false,
     itemStyle: {color: '#4169e1', opacity: 0.5}, silent: true, z: 2},
    {type: 'line', data: fitLine, smooth: 0.3, showSymbol: false, symbol: 'none',
     lineStyle: {color: '#c44e52', width: 3}, silent: true, z: 3}
  ]
});
</script></body></html>
